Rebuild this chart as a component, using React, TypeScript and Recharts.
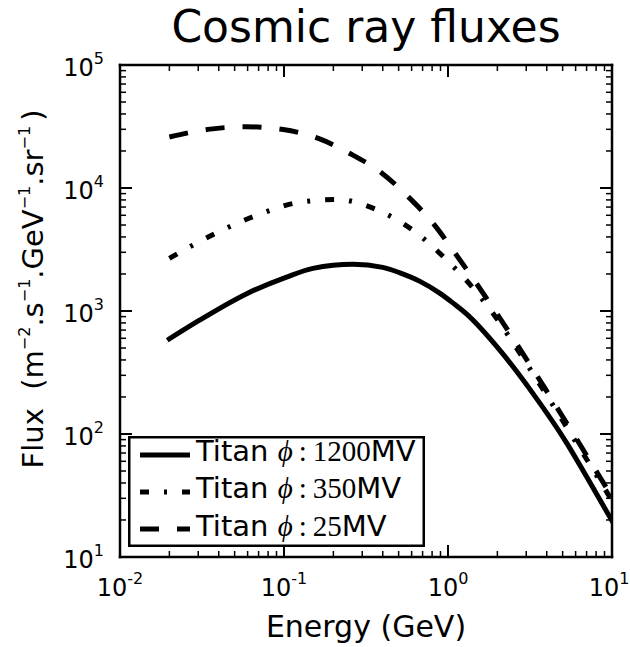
import React from 'react';
import { LineChart, Line, XAxis, YAxis, Legend, Label } from 'recharts';

// ---- data ----
const energy1200 = [0.02, 0.03, 0.0593, 0.1037, 0.15, 0.264, 0.4, 0.509, 0.675, 0.894, 1.07, 1.306, 2.075, 3.3, 5.32, 7.05, 10];
const flux1200 = [593, 830, 1384, 1888, 2220, 2400, 2265, 2043, 1742, 1391, 1164, 938, 478, 213, 83.6, 44.2, 19.7];

const energy350 = [0.02, 0.0379, 0.0682, 0.119, 0.209, 0.374, 0.63, 0.959, 1.496, 2.018, 2.748, 3.904, 5.546, 7.343, 10];
const flux350 = [2680, 4256, 6000, 7570, 8060, 6600, 4400, 2681, 1418, 838.6, 451.5, 217.3, 102.7, 56.3, 28.7];

const energy25 = [0.02, 0.0354, 0.0593, 0.099, 0.162, 0.252, 0.394, 0.573, 0.81, 1.103, 1.502, 2.018, 2.748, 3.904, 5.546, 7.343, 10];
const flux25 = [26000, 30100, 31500, 29900, 25300, 19100, 13270, 8470, 5170, 2962, 1650, 921, 490, 234.7, 110.9, 60.4, 30.7];

const seriesPotentials = ['1200', '350', '25'];

const xMajorTicks = [0.01, 0.1, 1, 10];
const xMajorLabels = ['-2', '-1', '0', '1'];
const yMajorTicks = [10, 100, 1000, 10000, 100000];
const yMajorLabels = ['1', '2', '3', '4', '5'];
const minorMultipliers = [2, 3, 4, 5, 6, 7, 8, 9];

const buildTicks = (majors: number[]) => {
  const out: number[] = [];
  majors.forEach((m, i) => {
    out.push(m);
    if (i < majors.length - 1) minorMultipliers.forEach((k) => out.push(+(m * k).toPrecision(6)));
  });
  return out;
};
const xTicks = buildTicks(xMajorTicks);
const yTicks = buildTicks(yMajorTicks);

const zip = (e: number[], f: number[]) => e.map((v, i) => ({ e: v, f: f[i] }));
const data1200 = zip(energy1200, flux1200);
const data350 = zip(energy350, flux350);
const data25 = zip(energy25, flux25);

const majorIndex = (v: number, majors: number[]) =>
  majors.findIndex((m) => Math.abs(Math.log10(v) - Math.log10(m)) < 1e-6);

const FONT = 'DejaVu Sans';
const MAJ = 12;
const MIN = 6;

const XBottomTick = (props: any) => {
  const { x, y, payload } = props;
  const idx = majorIndex(payload.value, xMajorTicks);
  const major = idx >= 0;
  const shift = idx === xMajorTicks.length - 1 ? -3 : 0;
  return (
    <g>
      <line x1={x} y1={y} x2={x} y2={y - (major ? MAJ : MIN)} stroke="#000" strokeWidth={major ? 2 : 1.5} />
      {major && (
        <text x={x + shift} y={y + 39} textAnchor="middle" fontFamily={FONT} fontSize={24} fill="#000">
          10
          <tspan dy={-12.5} fontSize={16}>
            {xMajorLabels[idx]}
          </tspan>
        </text>
      )}
    </g>
  );
};

const XTopTick = (props: any) => {
  const { x, y, payload } = props;
  const major = majorIndex(payload.value, xMajorTicks) >= 0;
  return <line x1={x} y1={y} x2={x} y2={y + (major ? MAJ : MIN)} stroke="#000" strokeWidth={major ? 2 : 1.5} />;
};

const YLeftTick = (props: any) => {
  const { x, y, payload } = props;
  const idx = majorIndex(payload.value, yMajorTicks);
  const major = idx >= 0;
  return (
    <g>
      <line x1={x} y1={y} x2={x + (major ? MAJ : MIN)} y2={y} stroke="#000" strokeWidth={major ? 2 : 1.5} />
      {major && (
        <text x={x - 16} y={y + 11} textAnchor="end" fontFamily={FONT} fontSize={24} fill="#000">
          10
          <tspan dy={-12.5} fontSize={16}>
            {yMajorLabels[idx]}
          </tspan>
        </text>
      )}
    </g>
  );
};

const YRightTick = (props: any) => {
  const { x, y, payload } = props;
  const major = majorIndex(payload.value, yMajorTicks) >= 0;
  return <line x1={x} y1={y} x2={x - (major ? MAJ : MIN)} y2={y} stroke="#000" strokeWidth={major ? 2 : 1.5} />;
};

const legendStyles = [
  { dash: undefined as string | undefined, cap: 'square' as const },
  { dash: '9 15 3 15', cap: 'butt' as const },
  { dash: '19 18', cap: 'butt' as const },
];

const PAD = 10;

const LegendBox = () => (
  <svg width={297 + 2 * PAD} height={111 + 2 * PAD} style={{ display: 'block', overflow: 'visible' }}>
    <g transform={`translate(${PAD} ${PAD})`}>
      <rect x={1.25} y={1.25} width={294.5} height={108.5} fill="#fff" stroke="#000" strokeWidth={2.5} />
      {seriesPotentials.map((p, i) => {
        const cy = 19 + i * 37;
        const st = legendStyles[i];
        return (
          <g key={p}>
            <line
              x1={st.cap === 'square' ? 14.5 : 12}
              x2={st.cap === 'square' ? 59.5 : 62}
              y1={cy}
              y2={cy}
              stroke="#000"
              strokeWidth={5}
              strokeDasharray={st.dash}
              strokeLinecap={st.cap}
            />
            <text x={68} y={cy + 6 + (i === 2 ? 1 : 0)} fontFamily={FONT} fontSize={29} fill="#000">
              Titan{' '}
              <tspan fontFamily="Liberation Serif" fontStyle="italic">
                ϕ
              </tspan>
              <tspan fontFamily="Liberation Serif" dx={6}>
                :
              </tspan>
              <tspan fontFamily="Liberation Serif" dx={6}>
                {p}
              </tspan>
              <tspan>MV</tspan>
            </text>
          </g>
        );
      })}
    </g>
  </svg>
);

const XLabelContent = (props: any) => {
  const vb = props.viewBox || { x: 120, y: 557, width: 492 };
  return (
    <text x={vb.x + vb.width / 2} y={vb.y + 80} textAnchor="middle" fontFamily={FONT} fontSize={30} fill="#000">
      Energy (GeV)
    </text>
  );
};

const YLabelContent = () => {
  const cx = 43;
  const cy = 289;
  const sup = { dy: -13, fontSize: 16 };
  const down = { dy: 13 };
  return (
    <text
      x={cx}
      y={cy}
      transform={`rotate(-90 ${cx} ${cy})`}
      textAnchor="middle"
      fontFamily={FONT}
      fontSize={29}
      fill="#000"
    >
      {'Flux\u00a0\u00a0(m'}
      <tspan {...sup}>−2</tspan>
      <tspan {...down}>.s</tspan>
      <tspan {...sup}>−1</tspan>
      <tspan {...down}>.GeV</tspan>
      <tspan {...sup}>−1</tspan>
      <tspan {...down}>.sr</tspan>
      <tspan {...sup}>−1</tspan>
      <tspan {...down} dx={5}>
        )
      </tspan>
    </text>
  );
};

const axisLine = { stroke: '#000', strokeWidth: 2.5, strokeLinecap: 'square' as const };

export default function App() {
  return (
    <div style={{ position: 'absolute', left: 0, top: 0, width: 630, height: 647, background: '#fff' }}>
      <LineChart width={630} height={647} margin={{ top: 64, right: 17, bottom: 0, left: 0 }}>
        <XAxis
          xAxisId="bottom"
          orientation="bottom"
          dataKey="e"
          type="number"
          scale="log"
          domain={[0.01, 10]}
          allowDataOverflow
          ticks={xTicks}
          interval={0}
          height={90}
          tickSize={0}
          tickMargin={0}
          tickLine={false}
          axisLine={axisLine}
          tick={<XBottomTick />}
        >
          <Label content={<XLabelContent />} />
        </XAxis>
        <XAxis
          xAxisId="top"
          orientation="top"
          dataKey="e"
          type="number"
          scale="log"
          domain={[0.01, 10]}
          allowDataOverflow
          ticks={xTicks}
          interval={0}
          height={1}
          tickSize={0}
          tickMargin={0}
          tickLine={false}
          axisLine={axisLine}
          tick={<XTopTick />}
        />
        <YAxis
          yAxisId="left"
          orientation="left"
          dataKey="f"
          type="number"
          scale="log"
          domain={[10, 100000]}
          allowDataOverflow
          ticks={yTicks}
          interval={0}
          width={120}
          tickSize={0}
          tickMargin={0}
          tickLine={false}
          axisLine={axisLine}
          tick={<YLeftTick />}
        >
          <Label content={<YLabelContent />} />
        </YAxis>
        <YAxis
          yAxisId="right"
          orientation="right"
          dataKey="f"
          type="number"
          scale="log"
          domain={[10, 100000]}
          allowDataOverflow
          ticks={yTicks}
          interval={0}
          width={1}
          tickSize={0}
          tickMargin={0}
          tickLine={false}
          axisLine={axisLine}
          tick={<YRightTick />}
        />
        <Line
          xAxisId="bottom"
          yAxisId="left"
          data={data1200}
          dataKey="f"
          name="Titan ϕ:1200MV"
          type="monotone"
          stroke="#000"
          strokeWidth={5}
          strokeLinecap="square"
          dot={false}
          activeDot={false}
          isAnimationActive={false}
        />
        <Line
          xAxisId="bottom"
          yAxisId="left"
          data={data350}
          dataKey="f"
          name="Titan ϕ:350MV"
          type="monotone"
          stroke="#000"
          strokeWidth={5}
          strokeDasharray="9 15 3 15"
          dot={false}
          activeDot={false}
          isAnimationActive={false}
        />
        <Line
          xAxisId="bottom"
          yAxisId="left"
          data={data25}
          dataKey="f"
          name="Titan ϕ:25MV"
          type="monotone"
          stroke="#000"
          strokeWidth={5}
          strokeDasharray="19 18"
          dot={false}
          activeDot={false}
          isAnimationActive={false}
        />
        <Legend
          layout="horizontal"
          verticalAlign="middle"
          align="center"
          wrapperStyle={{
            position: 'absolute',
            left: 128 - PAD,
            top: 436 - PAD,
            width: 297 + 2 * PAD,
            height: 111 + 2 * PAD,
            right: 'auto',
            bottom: 'auto',
          }}
          content={() => <LegendBox />}
        />
      </LineChart>
      <svg
        width={630}
        height={60}
        style={{ position: 'absolute', left: 0, top: 0, pointerEvents: 'none' }}
      >
        <text x={366} y={42} textAnchor="middle" fontFamily={FONT} fontSize={44} fill="#000">
          Cosmic ray fluxes
        </text>
      </svg>
    </div>
  );
}
